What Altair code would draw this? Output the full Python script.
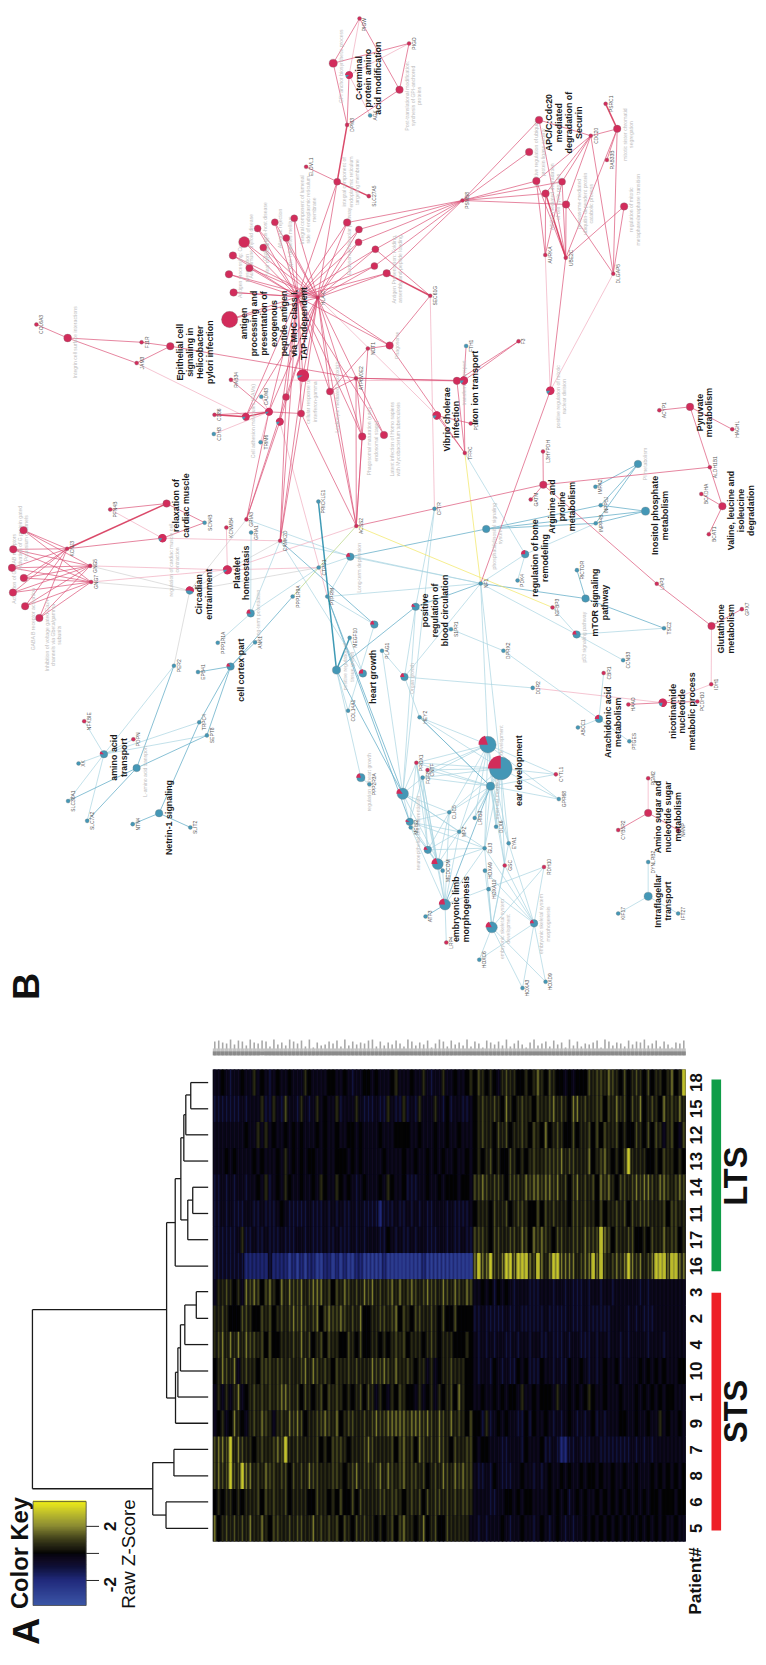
import math
from itertools import product
import pandas as pd
import altair as alt

RED, BLUE = "#d22c5b", "#4497b6"
W, H = 758, 1657

# term nodes: id -> (x, y, radius, fraction red)
TERMS = {
 "a1":(246.7,235.7,6.3,1),"a2":(235.3,249.3,4.3,1),"a3":(252,262,4.2,1),"a4":(231.3,268.3,4.3,1),
 "a5":(236,286.7,4.3,1),"a6":(232,314,9.3,1),"a7":(260.3,222,4,1),"a8":(266,241.3,4,1),
 "a9":(277.7,215.7,4,1),"a10":(289.3,231.7,4,1),"a11":(297.3,211.7,4,1),"a12":(340.7,174.7,4,1),
 "a13":(350.7,216,4.3,1),"a14":(362.7,223,4,1),"a15":(362.3,236,4,1),"a16":(379.3,243,4,1),
 "a17":(378.3,260,4,1),"a18":(390.7,267.3,4.3,1),
 "b1":(306,370.7,6.3,.92),"b2":(333.3,386.7,4,1),"b3":(289,392.3,4,1),"b4":(304.3,409,4,1),
 "b5":(271.7,407.3,4,.88),"b6":(248.3,412.3,4,.85),"b7":(282.7,417.3,4,.85),"b8":(366,432.3,4.3,1),
 "phago":(393.7,340.3,4.3,1),"tf":(461.7,376,4.3,1),"iron":(468.7,375.7,4.3,.85),"vib":(441.3,411,4.3,.85),
 "lat":(388,430.7,4.3,1),"cdiv":(556,386,4.3,.85),
 "c1":(336.7,55,4.7,1),"c2":(352.7,67,4,.88),"c3":(403.7,81.7,4.3,1),
 "int":(68.3,332.7,4.5,1),"epi":(172,341,4.3,1),
 "p1":(544.7,112.3,4.3,1),"p2":(534.7,144.7,4.3,1),"p3":(542,174,4.3,1),"p4":(568,174.7,4,1),
 "p5":(551.3,186.7,4.3,1),"p6":(572,197.7,4.3,1),"p7":(623.7,121.3,4.3,1),"p8":(630.7,199.7,4.3,1),
 "pyr":(697.3,402.3,4.3,1),"val":(730,502.7,4.3,1),"arg":(549,481,4.3,1),"glu":(719,623.7,4.3,1),
 "nic":(669.7,701.3,4.3,.8),"ara":(605.3,717.7,4.3,.25),"amis":(655,812.7,4.3,1),"ift":(655,897,4.7,0),
 "pim":(644.7,460,4.3,0),"ino":(652.3,507.7,4.7,0),"psi":(491.3,525.7,4.3,0),"bone":(530.7,551.3,4.3,.25),
 "mtor":(591.7,596,4.3,0),"p53":(582.7,632.3,4.3,.2),"bc":(420,604.3,4.3,.12),
 "rc":(168.3,500,4.3,1),"rc2":(164,535,4.3,.85),
 "g1":(23.7,527,4.3,1),"g2":(13.3,546.3,4.3,1),"g3":(12,565,4.3,1),"g4":(24,575.3,4.3,1),
 "g5":(13,590,4.3,1),"g6":(25.3,603.7,4.3,1),"g7":(39.7,615.7,4.3,1),
 "circ":(191.7,588,4.3,.55),"plat":(229.7,567,4.6,.88),"ltp":(253.3,611,4.3,.2),"ltd":(354,553.7,4.3,.2),
 "cort":(233,664.7,4.3,.15),"amino":(105,753.3,4.3,.12),"laa":(138,767.3,4.3,0),"net":(160.7,813,4.3,0),
 "hg":(366.7,671.7,4.3,.25),"big":(340,668.3,4.7,0),"h1":(378.3,622.3,4.3,.2),"rg":(364.7,777,4.7,.2),
 "og":(408.7,675.3,4.3,.2),"e1":(493,743.7,9.5,.2),"e2":(506,767.7,13,.25),"e3":(495.7,785.7,4.7,0),
 "n1":(407,793.3,6.5,.15),"n2":(414,821.7,4.3,.08),"n3":(432.3,850,4.3,.15),"n4":(442.3,864.3,6.3,.2),
 "lm":(449.7,905.3,6.3,.22),"s1":(497,928.3,6.3,.17),"s2":(539.7,924.3,4.3,.18),
}
# gene nodes: name -> (x, y, is red)
GENES = {
 "COL6A3":(36.7,319,1),"F11R":(143,337,1),"JAM3":(138,358,1),"RAB34":(233.3,375,1),"CADM3":(264,392,0),
 "CD86":(216.7,410.3,1),"CDH3":(216,429.7,0),"TRIM6":(263.3,438,0),"PRICKLE1":(321.7,498,0),
 "ATP6V0E2":(359.7,373.3,1),"NOT1":(371.7,343.3,1),"HLA-B":(300.7,291,1),"HLA-C":(321,292,1),
 "PIGW":(363.3,9.7,1),"PIGO":(413.3,35,1),"DPM3":(350.7,117.3,1),"AGK":(374,107.7,0),
 "ELOVL1":(309.3,159.7,1),"SLC27A5":(372.7,189.3,1),"PSMB8":(467.3,193.7,1),"CDC20":(597,128.3,1),
 "PSRC1":(612,96,1),"RAB33B":(613.3,152.7,1),"AURKA":(551,248.7,1),"UBE2C":(571.7,251.7,1),
 "DLGAP5":(619.7,267.7,1),"SEC61G":(434.7,290,1),"F3":(524,336,1),"FTH1":(471,340.7,0),
 "PDIA4":(475.7,419,1),"TFRC":(469.7,449,1),"ACYP1":(666.3,405.7,1),"HAGHL":(740,425,1),
 "ALDH1B1":(717.3,463.3,1),"BCKDHA":(708.7,490.3,1),"BCAT1":(716.3,531,1),"L3HYPDH":(548.7,447.3,1),
 "GATM":(536.3,496,1),"INPP5J":(607,501.7,0),"INPP4B":(602,520,0),"IMPA2":(601.7,483,0),
 "CFTR":(439,505.3,0),"PDK4":(523,577.7,0),"RICTOR":(583,567.3,0),"TSC2":(671,626,0),"NF1":(485.7,580.7,0),
 "IGFBP3":(558.3,605,1),"CCNB3":(629.7,658.3,0),"S1PR1":(455.7,627,0),"DPRX2":(508.7,648.7,0),
 "PLAG1":(386,648.7,0),"DDR2":(538.3,686.3,0),"CBR1":(610,671.3,1),"ABCC1":(584,726.3,0),
 "PTGES":(636,740.3,0),"HAAO":(635,703,1),"PCDH10":(704.7,700,1),"IDH1":(718.7,682.7,1),
 "LAP3":(663.7,581,1),"GPX7":(749.7,606.7,1),"PFN4B":(111.3,506,1),"SCN4B":(206.7,519.3,0),
 "KCNMB4":(228.7,524.3,1),"GRIA3":(249,516,1),"GRIA1":(253.7,529.3,0),"CAMK2D":(283,537.7,1),
 "KCNJ3":(67.7,545.7,1),"GNG5":(91,563,1),"GNG7":(92,579.3,1),"CTPS1":(322,564.7,0),"PTPRM":(330.7,594,0),
 "PPP1R9A":(295.7,594,0),"ACSS2":(360,522.7,1),"PPP1R1A":(220,640.7,0),"ANK1":(257.7,640.3,0),
 "EPB41":(200,670.3,0),"PER2":(175.7,664,0),"MEGF10":(353.3,635.7,0),"COL14A1":(351.7,709.3,0),
 "TRPC4":(201.3,721,0),"SEPT8":(209,734.3,0),"NFKBIE":(85,720,1),"PDPN":(134.7,738.3,1),"XK":(79.3,762.7,0),
 "SLC38A1":(68.7,800.7,0),"SLC7A2":(88,820.7,0),"NTN4":(134,824,0),"SLIT2":(192.3,827.3,0),
 "PPP2R3A":(373.3,783.7,0),"HEY2":(424,716,0),"PROX1":(420.7,762,1),"CNTF":(432,769.3,1),"FGF8":(427,777,0),
 "CYTL1":(561.7,773.7,1),"GPR68":(564.7,798.7,0),"CLIC5":(454,812,0),"LRIG3":(479.7,817.7,0),
 "DLX6":(501.3,826.7,0),"MPZ":(464,831.7,0),"EYA1":(514,843.3,0),"GLI3":(489.7,848.3,0),"MEIS2":(415,827.3,0),
 "MEDCOM":(447.3,871,0),"HOXA9":(490,871,0),"GSC":(510,865.7,1),"RDH10":(549.7,867.3,1),"HOXA10":(493.7,889.7,0),
 "ATF3":(430,917.3,0),"LRP4":(451,943.7,1),"HOXC6":(484.3,961,0),"HOXA3":(528,989.7,0),"HOXD9":(551.3,983.3,0),
 "PGM2":(655,777.7,1),"CYB5R2":(624.7,830,1),"NANP":(685.3,830,1),"DYNLRB2":(655,862.3,0),
 "KIF17":(624.7,914.3,0),"IFT27":(685.3,914.3,0),
}
FAN = ["a%d" % i for i in range(1, 19)]
LOWER = ["b1", "b2", "b3", "b4", "b5", "b6", "b7", "b8", "phago", "lat"]
NEURO = ["n1", "n2", "n3", "n4", "lm"]
NEURO_G = ["CLIC5", "MPZ", "GLI3", "FGF8", "PROX1", "MEIS2", "MEDCOM"]
EAR = ["e1", "e2", "e3"]
EAR_G = ["FGF8", "PROX1", "CNTF", "CLIC5", "LRIG3", "GLI3", "DLX6", "EYA1", "MPZ", "HEY2", "CYTL1", "GPR68", "GSC"]
SKEL = ["s1", "s2"]
SKEL_G = ["GLI3", "HOXA10", "HOXA9", "RDH10", "GSC", "HOXC6", "HOXA3", "HOXD9", "EYA1"]

EDGES = {
 "r": [("COL6A3","int"),("F11R","int"),("JAM3","int"),("F11R","epi"),("JAM3","epi"),("epi","ATP6V0E2"),
   ("PIGW","c1"),("PIGW","c3"),("c1","DPM3"),("c1","PIGO"),("c2","DPM3"),("c3","DPM3"),("c3","PIGO"),
   ("ELOVL1","a12"),("phago","SEC61G"),("a16","SEC61G"),
   ("CD86","b5"),("b5","b4"),("RAB34","b5"),("PSMB8","p1"),("PSMB8","p2"),("PSMB8","p3"),("PSMB8","p4"),
   ("PSMB8","p5"),("PSMB8","p6"),("CDC20","p1"),("CDC20","p3"),("CDC20","p4"),("CDC20","p5"),("CDC20","p6"),
   ("CDC20","p7"),("CDC20","DLGAP5"),("AURKA","p3"),("AURKA","p5"),("AURKA","p4"),("UBE2C","p1"),("UBE2C","p3"),
   ("UBE2C","p4"),("UBE2C","p6"),("UBE2C","p7"),("UBE2C","p8"),("DLGAP5","p6"),("DLGAP5","p8"),("DLGAP5","p7"),
   ("RAB33B","p7"),("UBE2C","cdiv"),("cdiv","NF1"),("arg","ACSS2"),("arg","L3HYPDH"),("arg","GATM"),
   ("arg","ALDH1B1"),("arg","LAP3"),("LAP3","glu"),("glu","GPX7"),("pyr","ACYP1"),("pyr","HAGHL"),("pyr","ALDH1B1"),
   ("val","ALDH1B1"),("val","BCKDHA"),("val","BCAT1"),("nic","HAAO"),("nic","PCDH10"),("amis","CYB5R2"),("amis","NANP"),
   ("tf","TFRC"),("iron","TFRC"),("vib","TFRC"),("phago","TFRC"),("iron","F3"),("tf","F3"),("vib","PDIA4"),
   ("tf","ATP6V0E2"),("iron","ATP6V0E2"),("NOT1","phago"),("NOT1","b2"),("ATP6V0E2","b2"),("ATP6V0E2","b8"),
   ("rc","PFN4B"),("rc2","SCN4B"),("rc2","KCNJ3"),("rc","SCN4B"),
   ("CAMK2D","HLA-B"),("CAMK2D","b3"),("CAMK2D","b4"),("CAMK2D","b1"),("GRIA3","b7"),("GRIA3","b3"),("GRIA3","b5"),
   ("ACSS2","HLA-C"),("ACSS2","b2"),("ACSS2","b4"),("ACSS2","b8"),("ACSS2","NOT1"),("ACSS2","ATP6V0E2"),("iron","FTH1")]
   + [(h, t) for h, t in product(["HLA-B", "HLA-C"], FAN)]
   + [(h, t) for h, t in product(["HLA-B", "HLA-C"], LOWER)]
   + [("PSMB8", t) for t in FAN[12:]]
   + [(k, g) for k, g in product(["KCNJ3", "GNG5", "GNG7"], ["g%d" % i for i in range(1, 8)])],
 "R": [("DPM3","a12"),("a12","SLC27A5"),("KCNJ3","rc"),("PSRC1","p7"),("UBE2C","p5"),("CD86","b6"),("b6","b5"),("a18","SEC61G")],
 "p": [("PIGW","c2"),("c2","PIGO"),("c2","AGK"),("JAM3","b6"),("CDH3","b5"),("CADM3","b5"),("b5","TRIM6"),("AURKA","cdiv"),
   ("DLGAP5","cdiv"),("SEC61G","CFTR"),("rc2","PFN4B"),("rc2","CAMK2D"),("GNG5","plat"),("GNG7","plat"),("KCNMB4","plat"),
   ("plat","CTPS1"),("plat","ACSS2"),("DDR2","nic"),("nic","IDH1"),("glu","IDH1"),("amis","PGM2"),("vib","HLA-C"),("RAB34","tf"),
   ("b7","PTPRM")],
 "b": [("NF1","e1"),("NF1","e2"),("NF1","p53"),("NF1","bone"),("TFRC","bone"),("CFTR","bc"),("bone","INPP4B"),("bc","S1PR1"),
   ("S1PR1","DPRX2"),("DPRX2","ara"),("ara","CBR1"),("ara","ABCC1"),("ara","PTGES"),("bone","PDK4"),("p53","IGFBP3"),("p53","TSC2"),
   ("p53","CCNB3"),("amino","NFKBIE"),("amino","XK"),("amino","SLC38A1"),("amino","SLC7A2"),("amino","TRPC4"),("amino","SEPT8"),
   ("amino","PER2"),("amino","PDPN"),("ltp","GRIA1"),("ltp","CAMK2D"),("ltp","CTPS1"),("ltp","PPP1R1A"),("ltd","CTPS1"),
   ("GRIA3","ltd"),("CAMK2D","hg"),("PTPRM","ltd"),("PTPRM","h1"),("og","DDR2"),("og","PLAG1"),("og","HEY2"),("PLAG1","n1"),
   ("CFTR","n1"),("NF1","ltd"),("NF1","og"),("NF1","PTPRM"),("NF1","CAMK2D"),("bc","n1"),("bc","og"),("big","rg"),("big","COL14A1"),
   ("COL14A1","h1"),("rg","PPP2R3A"),("hg","MEGF10"),("ift","KIF17"),("ift","IFT27"),("ift","DYNLRB2"),("lm","RDH10"),("lm","LRP4")]
   + [(t, g) for t, g in product(NEURO, NEURO_G)] + [(t, g) for t, g in product(EAR, EAR_G)]
   + [(t, g) for t, g in product(SKEL, SKEL_G)],
 "m": [("mtor","RICTOR"),("psi","ltd"),("psi","ino"),("psi","INPP4B"),("psi","INPP5J"),("ino","INPP4B"),("ino","INPP5J"),
   ("pim","INPP5J"),("pim","IMPA2"),("pim","INPP4B"),("NF1","bc"),("cort","EPB41"),("cort","ANK1"),("cort","SEPT8"),("laa","SEPT8"),
   ("laa","SLC38A1"),("laa","SLC7A2"),("laa","PER2"),("net","NTN4"),("net","SLIT2"),("net","TRPC4"),("big","bc"),("big","n1"),
   ("HEY2","e3"),("PTPRM","n2"),("e3","lm"),("lm","ATF3"),("h1","CAMK2D"),("mtor","NF1"),("mtor","TSC2"),("cort","PPP1R9A"),
   ("cort","TRPC4"),("PTPRM","n1")],
 "D": [("PRICKLE1","big"),("big","MEGF10")],
 "g": [("GNG5","circ"),("GNG7","circ"),("GRIA3","circ"),("CAMK2D","circ"),("PER2","circ"),("CTPS1","circ")],
 "y": [("TFRC","NF1"),("ACSS2","IGFBP3")],
 "l": [("PPP1R9A","ACSS2")],
}
EDGE_STROKE = {"r":"#d94a72","R":"#d42a50","p":"#f0a9bc","b":"#a6d2df","m":"#6bb1ca","D":"#1d88a8","g":"#d0d0d0","y":"#f3e96c","l":"#bcd98c"}
EDGE_WIDTH = {"r":.8,"R":1.5,"p":.8,"b":.8,"m":.95,"D":1.5,"g":.8,"y":.9,"l":.9}

BOLD_LABELS = [
 (["antigen","processing and","presentation of","exogenous","peptide antigen","via MHC class I,","TAP-independent"],247,318),
 (["Epithelial cell","signaling in","Helicobacter","pylori infection"],182,347),
 (["C-terminal","protein amino","acid modification"],362.3,70),
 (["APC/C:Cdc20","mediated","degradation of","Securin"],554.7,115),
 (["Vibrio cholerae","infection"],451.3,415),(["Iron ion transport"],479.7,383),
 (["Pyruvate","metabolism"],707,408),(["Valine, leucine and","isoleucine","degradation"],739,507),
 (["Arginine and","proline","metabolism"],558,503),(["Inositol phosphate","metabolism"],662.3,512),
 (["regulation of bone","remodeling"],540.3,555),(["mTOR signaling","pathway"],601.3,600),
 (["Glutathione","metabolism"],728.7,626.7),(["positive","regulation of","blood circulation"],429.7,608),
 (["Arachidonic acid","metabolism"],614.7,721),(["nicotinamide","nucleotide","metabolic process"],679.7,710),
 (["ear development"],524.7,770),(["Amino sugar and","nucleotide sugar","metabolism"],664.7,816.7),
 (["Intraflagellar","transport"],664.7,901.7),(["embryonic limb","morphogenesis"],461.3,910),
 (["heart growth"],376.7,675),(["cell cortex part"],243.3,668.3),(["amino acid","transport"],115,756.7),
 (["Netrin-1 signaling"],170.7,817.3),(["Circadian","entrainment"],201,591.7),(["Platelet","homeostasis"],239,570),
 (["relaxation of","cardiac muscle"],178,502),
]
GREY_LABELS = [
 (["Integrin cell surface interactions"],76,337),(["Cell adhesion molecules (CAMs)"],256,416.7),
 (["GPI anchor biosynthetic process"],345,58),(["integral component of","endoplasmic reticulum","targeting membrane"],348,175),
 (["integral component of lumenal","side of endoplasmic reticulum","membrane"],305,203),(["Leukocyte mediated cytotoxicity"],341,392),
 (["Phagosomal maturation (early","endosomal stage)"],373.3,437),(["cellular response to","interferon-gamma"],311.7,397),
 (["Post-translational modification:","synthesis of GPI-anchored","proteins"],411.3,88),
 (["mitotic sister chromatid","segregation"],631.3,127),(["regulation of mitotic","metaphase/anaphase transition"],638,203),
 (["positive regulation of mitotic","nuclear division"],564,392),(["Latent infection of Homo sapiens","with Mycobacterium tuberculosis"],395.7,435),
 (["Phagosome"],401.3,340),(["transferrin transport"],469,378),(["PI metabolism"],652.3,460),
 (["proteasome-mediated","ubiquitin-dependent protein","catabolic process"],584.7,197),
 (["positive regulation of ubiquitin","protein ligase activity"],542,145),(["APC/C-mediated degradation","of cell cycle proteins"],558,190),
 (["Antigen Presentation: Folding,","assembly and peptide loading"],398,263),(["Endosomal/Vacuolar pathway"],353,235),
 (["Antigen processing: Cross","presentation"],243,262),(["Viral myocarditis"],270,250),(["Graft-versus-host disease"],268,225),
 (["Allograft rejection"],283,222),(["Type I diabetes mellitus"],293,237),(["Autoimmune thyroid disease"],254,240),
 (["Activation of GABAB receptors"],14,566),(["Activation of G protein gated","Potassium channels"],20,535),
 (["GABA B receptor activation"],33,617),(["Inhibition of voltage gated Ca2+","channels via Gbeta/gamma","subunits"],47,633),
 (["regulation of cardiac muscle cell","contraction"],172.3,557),(["Long-term depression"],362.3,565),
 (["Long-term potentiation"],261,613),(["L-amino acid transport"],146,770.7),(["regulation of heart growth"],372.7,781.7),
 (["positive regulation of","tissue growth"],349,665),(["Organ growth"],416.3,676.7),(["p53 signaling pathway"],590.3,635),
 (["phosphatidylinositol signaling","system"],499,533),(["inner ear development"],506.3,750),
 (["embryonic skeletal system","development"],507,930),(["embryonic skeletal system","morphogenesis"],547,925),
 (["neuroepithelial cell differentiation"],422.3,833),(["inner ear morphogenesis"],502,790),
]
BIG_BOLD = [("A",28,1640,38),("B",28,988,38),("Color Key",21,1560.7,24),("LTS",745,1179.7,33),("STS",745,1417.5,33),
            ("Patient#",703,1589,17.5),("2",111.7,1533.7,17),("-2",111.7,1592.7,17)]
BIG_PLAIN = [("Raw Z-Score",130.7,1561.7,19)]

# dendrogram segments: (x, y, x2, y2)
DENDRO = [(192.7,1085.2,210.3,1085.2),(192.7,1111.7,210.3,1111.7),(192.7,1085.2,192.7,1111.7),(187.7,1097.7,192.7,1097.7),
 (187.7,1097.7,187.7,1138),(187.7,1138,210.3,1138),(185.7,1117.7,187.7,1117.7),(185.7,1117.7,185.7,1164.5),(185.7,1164.5,210.3,1164.5),
 (194.7,1191,210.3,1191),(194.7,1217.5,210.3,1217.5),(194.7,1191,194.7,1217.5),(189.7,1204,194.7,1204),(189.7,1204,189.7,1244),(189.7,1244,210.3,1244),
 (182.7,1224,189.7,1224),(182.7,1141,182.7,1224),(182.7,1141,185.7,1141),(177,1182.3,182.7,1182.3),(177,1182.3,177,1270.7),(177,1270.7,210.3,1270.7),
 (168.3,1226.7,177,1226.7),(198.3,1296.5,210.3,1296.5),(198.3,1323.5,210.3,1323.5),(198.3,1296.5,198.3,1323.5),(186.7,1310,198.3,1310),
 (186.7,1310,186.7,1350),(186.7,1350,210.3,1350),(182.3,1330,186.7,1330),(182.3,1330,182.3,1376.7),(182.3,1376.7,210.3,1376.7),
 (179.7,1353.3,182.3,1353.3),(179.7,1353.3,179.7,1403),(179.7,1403,210.3,1403),(177.3,1378,179.7,1378),(177.3,1378,177.3,1429.5),(177.3,1429.5,210.3,1429.5),
 (168.3,1404,177.3,1404),(168.3,1226.7,168.3,1404),(32.7,1314.7,168.3,1314.7),(32.7,1314.7,32.7,1495.7),(32.7,1495.7,154.3,1495.7),
 (154.3,1469.3,154.3,1522.3),(154.3,1469.3,175.7,1469.3),(175.7,1456,175.7,1482.7),(175.7,1456,210.3,1456),(175.7,1482.7,210.3,1482.7),
 (154.3,1522.3,167.7,1522.3),(167.7,1509,167.7,1535.7),(167.7,1509,210.3,1509),(167.7,1535.7,210.3,1535.7)]
GROUP_BARS = [(719,1082,728.7,1276,"#0f9d48"),(719,1297.7,728.7,1538,"#ee2026")]

PATIENTS = [18,15,12,13,14,11,17,16,3,2,4,10,1,9,7,8,6,5]
# z levels 0..8 per gene block, read row by row from the heat map stripes
LEFT = [
"334323343353432343343335433334433432334434333453334335323353343345",
"222222232333522532633253235343352333532223225322523253335324233223",
"333333334335353433434343334343343344343333433344443343334334334333",
"333434333343433343534343443343344434343333343333433433434343343343",
"223232332334352343543343343543354343234333435433422233433434443443",
"223232223322322234322222322232323223232222122232232323223332322223",
"222222352232232223222332322232232223232333224323223233222332322322",
"222222221111112111101010110011010100110000010000000001000000000000",
"355654537676467547576675677756465765657675656757567656766576576576",
"556544466544656456567676567467667656574455665674654665565464464444",
"567575757665646445556575645646554465464455454565645554565455544454",
"457657356554666566565567576565465565655576676575565455353455655544",
"353535734565656567765646545646565454564653543546544353453545647544",
"345347543565765356576764556676574566556567667777767776765765756546",
"677685765545655676855655556454666545556765555646756476565765465566",
"676686687756576656646565766555665456756656757656756656456576576766",
"454554545556465655645555446554546446465555665665456564656656565665",
"745656565755754665565665575656564654656554545646755457456446555553",
]
RIGHT = [
"465454356554454575465443434446566576546456546455457458",
"456556547545655465567565477565566465756465745654756575",
"456554656455654654745654464556464655645446546465356436",
"454564544654545655666675665557456754546855554454655454",
"667656654666576776776756467565647675466567677657765676",
"455546556456654464656555466565546455656465666555646655",
"666546655665764767654665566576668764655664454655756645",
"787786678878887687578877775677878656767876756788878877",
"334342434323332223332332322232332332333333232333333333",
"223222223223222222322222322232222223333232322233333333",
"323232332232332332232223233222323323323233332333233333",
"323324323224342224332322433432323433423333434343433344",
"334334343443533434443533434345433433343334343434344333",
"442523434332242433432323432323423233344334334335343343",
"434433322333243334223211223222332222222232323233333333",
"322324322233433232343343433434434334334334333434343434",
"333322334434344333343434234343343434343434343443444344",
"323233343233433234323432323343434343434343434343433433",
]
Z_LEVELS = [-3, -2, -1.2, -.6, 0, .7, 1.2, 1.8, 3.1]
STRIP = ("786594873965872946397582916347582937465892736485297364"
         "815972846392751864739258416935728461937254681973652847"
         "69358274165892")
KEY_TICKS = [2, 0, -2]
KEY_BINS = [round(-3.85 + .1 * i, 2) for i in range(77)]
HEAT_DOMAIN = [-3.85, -2, -1, 0, 1, 2, 3.83]
HEAT_RANGE = ["#3b55a6", "#20297a", "#0e0f35", "#030303", "#3f3f1a", "#8c8c32", "#f2f00f"]

# ---------- tables ----------
pos = {k: v[:2] for k, v in TERMS.items()}
pos.update({k: v[:2] for k, v in GENES.items()})
edge_rows = []
for cls in ["g", "p", "b", "m", "y", "l", "D", "r", "R"]:
    for a, b in EDGES[cls]:
        edge_rows.append(dict(x=pos[a][0], y=pos[a][1], x2=pos[b][0], y2=pos[b][1],
                              c=EDGE_STROKE[cls], w=EDGE_WIDTH[cls]))
edges = pd.DataFrame(edge_rows)
node_rows = [dict(x=v[0], y=v[1], a=math.pi*v[2]**2, c=RED if v[3] == 1 else BLUE) for v in TERMS.values()]
node_rows += [dict(x=v[0], y=v[1], a=math.pi*2.3**2, c=RED if v[2] else BLUE) for v in GENES.values()]
nodes = pd.DataFrame(node_rows)
pies = pd.DataFrame([dict(x=v[0], y=v[1], r=v[2], t0=1.5*math.pi, t1=1.5*math.pi+2*math.pi*v[3])
                     for v in TERMS.values() if 0 < v[3] < 1])
def lines(spec, step):
    return [dict(x=x0+i*step, y=y, t=s) for words, x0, y in spec for i, s in enumerate(words)]
bold = pd.DataFrame(lines(BOLD_LABELS, 10))
grey = pd.DataFrame(lines(GREY_LABELS, 6.3))
glab = pd.DataFrame([dict(x=v[0]+5, y=max(v[1], 16), t=k) for k, v in GENES.items()])
big = pd.DataFrame(BIG_BOLD, columns=["t","x","y","s"])
plain = pd.DataFrame(BIG_PLAIN, columns=["t","x","y","s"])
dend = pd.DataFrame(DENDRO, columns=["x","y","x2","y2"])
bars = pd.DataFrame(GROUP_BARS, columns=["x","y","x2","y2","c"])
under = pd.DataFrame([dict(x=215,y=1072,x2=693,y2=1549)])

heat_rows = []
for p, l, r in zip(PATIENTS, LEFT, RIGHT):
    for i, ch in enumerate(l[:66] + r[:54]):
        z = Z_LEVELS[int(ch)]
        heat_rows.append(dict(p=str(p), col=i, z=z, zb=z*(.8 if abs(z) >= 1.9 else .35)))
heat = pd.DataFrame(heat_rows)
plabs = pd.DataFrame({"p":[str(p) for p in PATIENTS]})
strip = pd.DataFrame([dict(col=i, h=7+int(ch), h0=0) for i, ch in enumerate(STRIP[:120])])
key = pd.DataFrame({"v":KEY_BINS, "v2":[b+.16 for b in KEY_BINS]})
ticks = pd.DataFrame({"v":KEY_TICKS})
frame = pd.DataFrame([dict(v=-3.85, v2=3.83)])

# ---------- page-scaled layer ----------
X = alt.X("x:Q", axis=None, scale=alt.Scale(domain=[8, 8+W], range=[0, W], nice=False, zero=False))
Y = alt.Y("y:Q", axis=None, scale=alt.Scale(domain=[8, 8+H], range=[0, H], nice=False, zero=False))
base_text = dict(angle=270, align="center", baseline="middle", font="Liberation Sans")

net = alt.layer(
    alt.Chart(under).mark_rect(color="#0b0b2a").encode(X, Y, x2="x2:Q", y2="y2:Q"),
    alt.Chart(bars).mark_rect().encode(X, Y, x2="x2:Q", y2="y2:Q", color=alt.Color("c:N", scale=None)),
    alt.Chart(dend).mark_rule(color="#1a1a1a", strokeWidth=1.3).encode(X, Y, x2="x2:Q", y2="y2:Q"),
    alt.Chart(edges).mark_rule(opacity=.85).encode(X, Y, x2="x2:Q", y2="y2:Q",
        color=alt.Color("c:N", scale=None), size=alt.Size("w:Q", scale=None)),
    alt.Chart(grey).mark_text(fontSize=5.2, color="#bdbdbd", **base_text).encode(X, Y, text="t:N"),
    alt.Chart(nodes).mark_circle(opacity=1, stroke="#777777", strokeWidth=.3).encode(X, Y,
        size=alt.Size("a:Q", scale=None), color=alt.Color("c:N", scale=None)),
    alt.Chart(pies).mark_arc(color=RED).encode(X, Y,
        theta=alt.Theta("t0:Q", scale=None), theta2=alt.Theta2("t1:Q"), radius=alt.Radius("r:Q", scale=None)),
    alt.Chart(glab).mark_text(fontSize=5, color="#555555", **base_text).encode(X, Y, text="t:N"),
    alt.Chart(bold).mark_text(fontSize=9, fontWeight="bold", color="#1a1a1a", **base_text).encode(X, Y, text="t:N"),
    alt.Chart(big).mark_text(fontWeight="bold", color="#111111", **base_text).encode(X, Y, text="t:N",
        size=alt.Size("s:Q", scale=None)),
    alt.Chart(plain).mark_text(color="#111111", **base_text).encode(X, Y, text="t:N",
        size=alt.Size("s:Q", scale=None)),
)

# ---------- heat map ----------
hx = alt.X("col:O", axis=None, scale=alt.Scale(domain=list(range(120)), range=[207, 685], paddingInner=0, paddingOuter=0))
hy = alt.Y("p:O", axis=None, scale=alt.Scale(domain=[str(p) for p in PATIENTS], range=[1064, 1541], paddingInner=0, paddingOuter=0))
heat_scale = alt.Scale(domain=HEAT_DOMAIN, range=HEAT_RANGE)
heatmap = alt.layer(
    alt.Chart(heat).mark_rect().encode(hx, hy, color=alt.Color("zb:Q", scale=heat_scale, legend=None)),
    alt.Chart(heat).mark_rect(width=1.3).encode(hx, hy, color=alt.Color("z:Q", scale=heat_scale, legend=None)),
    alt.Chart(plabs).mark_text(fontSize=17, fontWeight="bold", color="#111111", x=696, **base_text).encode(hy, text="p:N"),
)

# ---------- gene label strip ----------
sx = alt.X("col:O", axis=None, scale=alt.Scale(domain=list(range(120)), range=[207, 685], paddingInner=0, paddingOuter=0))
sy = alt.Y("h:Q", axis=None, scale=alt.Scale(domain=[0, 16], range=[1049.7, 1033.7], nice=False, zero=True))
stripe = alt.layer(
    alt.Chart(strip).mark_rect(color="#a8a8a8", width=1.6).encode(sx, sy, y2="h0:Q"),
    alt.Chart(strip.assign(h=7)).mark_rect(color="#c4c4c4").encode(sx, sy, y2="h0:Q"),
    alt.Chart(strip.assign(h=4)).mark_rect(color="#8a8a8a").encode(sx, sy, y2="h0:Q"),
)

# ---------- colour key ----------
ky = alt.Y("v:Q", axis=None, scale=alt.Scale(domain=[3.83, -3.85], range=[1500.7, 1605.7], nice=False, zero=False))
colorkey = alt.layer(
    alt.Chart(key).mark_rect(x=25.3, x2=79).encode(ky, y2="v2:Q",
        color=alt.Color("v:Q", scale=heat_scale, legend=None)),
    alt.Chart(frame).mark_rect(x=25.3, x2=79, fillOpacity=0, stroke="#444444", strokeWidth=.8).encode(ky, y2="v2:Q"),
    alt.Chart(ticks).mark_rule(x=79, x2=92, color="#222222", strokeWidth=1).encode(ky),
)

chart = alt.layer(net, heatmap, stripe, colorkey).resolve_scale(
    x="independent", y="independent", color="independent", size="independent"
).properties(
    width=W, height=H, padding=0, autosize=alt.AutoSizeParams(type="none")
).configure_view(stroke=None)

chart.save("out.html", embed_options={"renderer": "svg", "actions": False})
